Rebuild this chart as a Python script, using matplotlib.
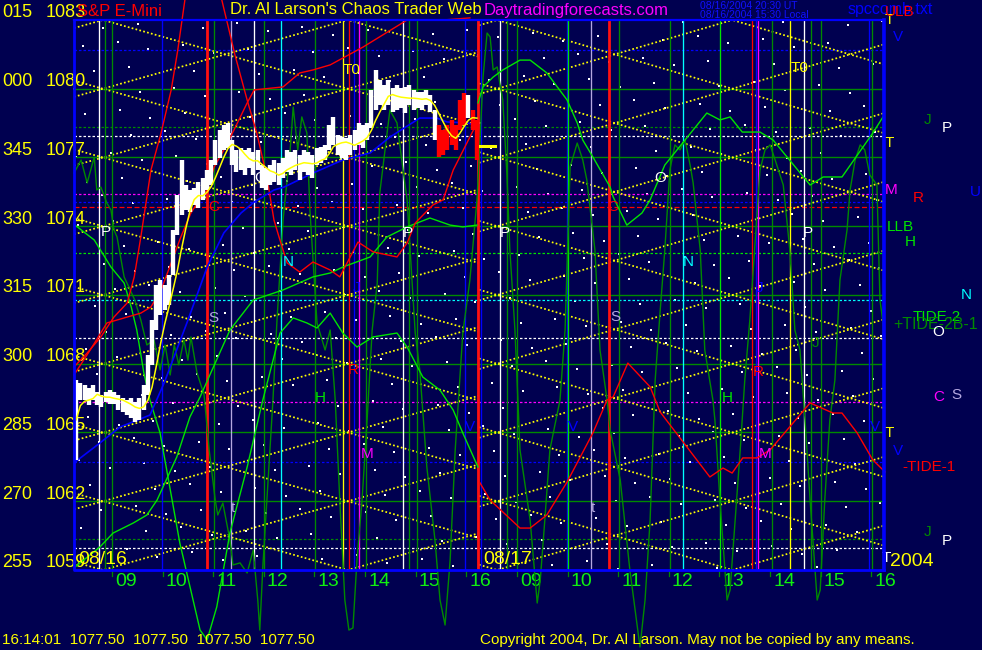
import numpy as np
import pandas as pd
import matplotlib
matplotlib.use("Agg")
import matplotlib.pyplot as plt
from matplotlib.patches import Rectangle

# time axis = hours since 08:15 on 08/16 ; 8.0 = 16:15 08/16 = 08:15 08/17 ; 16.0 = 16:15 08/17
price_levels = [1083, 1080, 1077, 1074, 1071, 1068, 1065, 1062, 1059]
angle_labels = ['015', '000', '345', '330', '315', '300', '285', '270', '255']
hour_names = ['09', '10', '11', '12', '13', '14', '15', '16']
day_labels = ['08/16', '08/17']
last_price = 1077.50
clock_text = '16:14:01'

# 5 minute bars of the S&P E-mini, 08/16
bar_high = [1067.30, 1067.16, 1067.07, 1066.94, 1067.07, 1066.77, 1066.64, 1066.77, 1066.85, 1066.77,
            1066.64, 1066.50, 1066.42, 1066.50, 1066.33, 1066.50, 1067.07, 1068.38, 1069.91, 1071.43,
            1071.65, 1071.43, 1071.87, 1073.83, 1075.36, 1076.89, 1075.80, 1075.58, 1075.67, 1075.93,
            1076.10, 1076.45, 1076.89, 1077.76, 1078.20, 1078.42, 1078.50, 1077.76, 1077.32, 1077.41,
            1077.32, 1077.41, 1077.24, 1077.32, 1076.67, 1076.54, 1076.67, 1076.89, 1076.76, 1076.98,
            1077.32, 1077.24, 1077.32, 1077.11, 1077.32, 1077.24, 1077.11, 1077.41, 1077.46, 1077.54,
            1078.42, 1078.76, 1077.98, 1077.89, 1077.85, 1077.98, 1078.20, 1078.50, 1078.42, 1078.50,
            1079.94, 1080.82, 1080.38, 1080.16, 1080.38, 1080.03, 1080.16, 1080.03, 1080.07, 1080.16,
            1079.94, 1079.86, 1079.86, 1079.94, 1079.72, 1079.07, 1078.42, 1078.20, 1078.42, 1078.63,
            1078.42, 1079.51, 1079.81, 1079.72, 1079.07, 1078.63]
bar_low = [1063.80, 1066.42, 1066.42, 1066.20, 1066.42, 1066.20, 1066.11, 1066.33, 1066.24, 1066.24,
           1065.98, 1065.89, 1065.76, 1065.63, 1065.46, 1065.54, 1065.98, 1066.64, 1067.94, 1069.47,
           1070.13, 1070.34, 1070.56, 1071.87, 1073.62, 1074.49, 1074.71, 1074.62, 1074.92, 1074.79,
           1075.14, 1075.58, 1075.80, 1076.67, 1076.98, 1077.32, 1077.41, 1076.67, 1076.36, 1076.45,
           1076.23, 1076.54, 1076.23, 1076.45, 1075.67, 1075.58, 1075.80, 1075.93, 1075.80, 1076.10,
           1076.36, 1076.23, 1076.45, 1076.02, 1076.36, 1076.23, 1076.10, 1076.67, 1076.76, 1076.89,
           1077.32, 1077.54, 1077.11, 1076.98, 1076.89, 1077.11, 1077.32, 1077.54, 1077.41, 1077.76,
           1078.28, 1079.07, 1079.29, 1079.07, 1079.29, 1078.98, 1079.07, 1079.16, 1078.94, 1079.29,
           1079.07, 1079.16, 1079.07, 1079.29, 1078.98, 1077.76, 1077.02, 1077.11, 1077.32, 1077.54,
           1077.32, 1078.20, 1078.42, 1078.72, 1078.20, 1076.89]

# slow average (blue)
blue_curve = [(0.02, 1063.71), (0.51, 1064.54), (0.91, 1065.24), (1.50, 1065.76), (1.78, 1067.16),
              (2.23, 1069.78), (2.63, 1072.22), (2.96, 1073.71), (3.30, 1074.58), (3.56, 1075.06),
              (3.95, 1075.58), (4.15, 1075.71), (4.72, 1076.32), (5.31, 1076.89), (5.85, 1077.20),
              (6.24, 1077.89), (6.83, 1078.72), (7.17, 1078.72), (7.37, 1078.55), (7.76, 1078.51),
              (7.96, 1078.42)]

# red tide curves
red_1 = [(0.00, 1067.86), (0.26, 1068.47), (0.53, 1069.17), (0.79, 1070.04), (1.05, 1070.65),
         (1.19, 1071.79), (1.32, 1073.53), (1.52, 1076.45), (1.72, 1078.07), (1.92, 1079.95),
         (2.05, 1081.69), (2.19, 1083.87)]
red_2 = [(0.00, 1067.51), (0.32, 1068.60), (0.65, 1069.78), (1.32, 1070.21), (1.52, 1070.48),
         (1.72, 1071.22), (1.92, 1072.40), (2.11, 1073.53), (2.31, 1074.58), (2.51, 1075.28),
         (2.63, 1075.58), (2.77, 1076.59), (2.96, 1077.33), (3.16, 1078.20), (3.42, 1079.38),
         (3.56, 1079.95), (4.13, 1080.08), (4.46, 1080.69), (4.72, 1080.82), (5.06, 1081.04),
         (5.71, 1081.82), (6.58, 1083.00), (7.29, 1083.00), (7.82, 1083.09)]
red_3 = [(2.92, 1083.87), (3.18, 1081.47), (3.42, 1079.51), (3.61, 1078.07), (3.81, 1076.15),
         (3.95, 1074.27), (4.05, 1073.53), (4.21, 1072.40), (4.46, 1072.00), (4.72, 1072.44),
         (5.06, 1072.09), (5.25, 1071.79), (5.61, 1073.31), (5.91, 1072.88), (6.38, 1072.66),
         (6.58, 1073.27), (6.74, 1074.14), (7.09, 1074.93), (7.29, 1075.15), (7.49, 1076.45),
         (7.76, 1077.63), (7.96, 1078.51)]
red_4 = [(8.02, 1062.80), (8.22, 1062.05), (8.81, 1060.83), (9.01, 1060.83), (9.34, 1061.40),
         (9.74, 1062.84), (10.25, 1064.98), (10.53, 1066.42), (10.65, 1066.55), (10.94, 1068.03),
         (11.38, 1066.99), (11.58, 1065.89), (12.56, 1063.06), (12.82, 1063.45), (13.00, 1063.23),
         (13.21, 1063.89), (13.49, 1063.89), (13.75, 1064.24), (14.54, 1066.29), (14.99, 1065.85),
         (15.17, 1065.85), (15.47, 1064.98), (15.78, 1063.80), (16.02, 1063.28)]

# light green tide curves
green_1 = [(0.02, 1074.05), (0.40, 1073.40), (0.73, 1072.22), (0.99, 1071.52), (1.13, 1070.48),
           (1.24, 1069.47), (1.38, 1067.60), (1.50, 1066.42), (1.70, 1064.98), (2.09, 1060.18),
           (2.49, 1056.38), (2.63, 1055.95), (2.82, 1057.39), (3.08, 1060.61), (3.42, 1063.49),
           (3.73, 1066.42), (4.07, 1069.34), (4.33, 1070.00), (4.60, 1069.78), (4.80, 1069.56),
           (5.06, 1070.21), (5.31, 1069.34), (5.59, 1068.73), (5.91, 1069.17), (6.38, 1069.34),
           (6.58, 1068.73), (6.89, 1067.42), (7.23, 1066.85), (7.49, 1065.98), (7.68, 1064.98),
           (7.98, 1063.49)]
green_2 = [(0.02, 1059.13), (0.51, 1060.00), (0.77, 1060.61), (1.17, 1061.05), (1.44, 1061.40),
           (1.64, 1062.05), (2.03, 1063.93), (2.29, 1065.68), (2.49, 1066.55), (3.08, 1069.47),
           (3.54, 1070.78), (4.13, 1071.22), (4.72, 1071.79), (5.06, 1071.96), (5.31, 1072.22),
           (5.85, 1072.66), (6.18, 1073.53), (6.58, 1073.97), (7.03, 1074.36), (7.43, 1074.05),
           (7.68, 1073.97), (7.96, 1074.05)]
green_3 = [(7.98, 1079.38), (8.08, 1080.08), (8.28, 1080.51), (8.47, 1080.82), (8.81, 1081.25),
           (9.01, 1081.25), (9.34, 1080.69), (9.74, 1079.51), (9.94, 1078.51), (10.05, 1077.76),
           (10.25, 1077.02), (10.59, 1075.71), (10.65, 1075.28), (10.92, 1074.05), (11.22, 1074.58),
           (11.38, 1075.15), (11.67, 1076.67), (12.50, 1078.94), (12.76, 1078.64), (12.96, 1078.77),
           (13.20, 1078.11), (13.55, 1078.11), (13.81, 1077.76), (14.54, 1075.80), (14.80, 1076.15),
           (15.17, 1076.15), (15.78, 1078.07), (15.98, 1078.77)]

# fast cycle (dark green)
wave = [(0.00, 1076.32), (0.14, 1076.89), (0.26, 1075.89), (0.40, 1077.02), (0.45, 1075.58),
        (0.53, 1075.71), (0.65, 1075.01), (0.73, 1074.71), (0.79, 1073.84), (0.85, 1073.53),
        (0.93, 1072.53), (0.99, 1071.79), (1.11, 1071.22), (1.20, 1070.78), (1.32, 1069.91),
        (1.44, 1068.82), (1.58, 1069.04), (1.70, 1067.73), (1.80, 1068.82), (1.90, 1067.51),
        (1.98, 1068.82), (2.07, 1067.95), (2.17, 1069.04), (2.25, 1068.16), (2.31, 1069.17),
        (2.43, 1067.60), (2.57, 1066.64), (2.67, 1064.24), (2.79, 1062.05), (2.84, 1061.40),
        (2.94, 1061.92), (3.08, 1060.31), (3.14, 1059.22), (3.28, 1059.31), (3.42, 1058.87),
        (3.54, 1059.87), (3.63, 1057.69), (3.67, 1056.38), (3.73, 1059.13), (3.81, 1062.05),
        (3.93, 1066.42), (4.01, 1069.91), (4.13, 1074.27), (4.27, 1077.33), (4.33, 1079.20),
        (4.42, 1077.33), (4.50, 1078.77), (4.60, 1078.07), (4.66, 1074.71), (4.80, 1069.78),
        (4.96, 1068.60), (5.06, 1069.47), (5.16, 1066.42), (5.25, 1062.05), (5.35, 1057.69),
        (5.43, 1056.38), (5.51, 1056.47), (5.59, 1059.44), (5.69, 1062.05), (5.79, 1065.55),
        (5.89, 1069.47), (5.99, 1071.52), (6.04, 1075.45), (6.24, 1079.07), (6.38, 1078.51),
        (6.50, 1076.45), (6.58, 1075.15), (6.64, 1072.96), (6.74, 1069.34), (6.83, 1067.73),
        (6.97, 1063.49), (7.13, 1060.31), (7.23, 1057.69), (7.33, 1056.60), (7.43, 1059.44),
        (7.53, 1064.24), (7.68, 1069.34), (7.82, 1071.65), (7.96, 1075.15), (8.02, 1077.76),
        (8.08, 1080.51), (8.16, 1082.43), (8.22, 1082.26), (8.28, 1080.82), (8.36, 1080.95),
        (8.41, 1080.25), (8.47, 1079.51), (8.55, 1076.32), (8.61, 1072.96), (8.71, 1069.47),
        (8.81, 1064.24), (9.01, 1061.18), (9.15, 1057.56), (9.21, 1058.56), (9.30, 1061.18),
        (9.40, 1064.24), (9.60, 1066.42), (9.70, 1069.47), (9.80, 1076.59), (9.94, 1077.63),
        (10.05, 1076.89), (10.13, 1076.02), (10.29, 1072.96), (10.39, 1068.60), (10.53, 1066.42),
        (10.59, 1065.11), (10.79, 1062.93), (10.98, 1059.00), (11.18, 1055.64), (11.28, 1057.69),
        (11.38, 1061.18), (11.48, 1067.29), (11.58, 1070.35), (11.67, 1072.96), (11.77, 1076.45),
        (11.87, 1077.55), (11.97, 1077.33), (12.07, 1077.76), (12.17, 1076.67), (12.23, 1075.89),
        (12.37, 1072.96), (12.46, 1068.60), (12.62, 1066.42), (12.66, 1065.55), (12.76, 1062.05),
        (12.90, 1057.69), (12.96, 1058.13), (13.06, 1061.18), (13.16, 1064.24), (13.25, 1067.29),
        (13.35, 1069.91), (13.55, 1076.45), (13.65, 1077.33), (13.75, 1077.55), (13.85, 1076.89),
        (14.01, 1075.80), (14.14, 1072.96), (14.24, 1069.47), (14.34, 1068.60), (14.44, 1065.55),
        (14.54, 1062.05), (14.68, 1057.69), (14.74, 1058.13), (14.83, 1062.05), (14.93, 1065.55),
        (15.03, 1067.29), (15.13, 1071.65), (15.27, 1073.84), (15.33, 1075.58), (15.43, 1076.89),
        (15.53, 1077.55), (15.62, 1077.33), (15.72, 1076.24), (15.86, 1075.80), (15.92, 1070.78),
        (16.00, 1069.47)]

# time markers (vertical lines) by kind
time_marks = {
    'white': [0.49, 3.56, 6.50, 8.42, 14.41],
    'lavender': [3.10, 10.22],
    'red_thick': [2.63, 7.98, 10.57],
    'red': [5.43, 13.40],
    'blue': [1.74, 5.53, 7.73, 8.04, 9.74, 13.48, 15.71],
    'magenta': [5.63, 13.52],
    'cyan': [4.09, 12.02],
    'yellow': [5.32, 14.15],
    'dgreen': [0.61, 0.75, 2.77, 3.76, 4.76, 5.77, 6.62, 6.78, 8.56, 8.76, 10.77, 11.78,
               13.78, 14.55, 14.76, 15.77],
    'lgreen': [9.76, 12.77, 15.99],
}
# price levels (horizontal lines)
solid_levels = [1080, 1077, 1074, 1071, 1068, 1065, 1062]
dotted_levels = {
    'blue': [1081.69, 1075.06, 1063.71],
    'dgreen': [1078.33, 1060.35],
    'white': [1077.94, 1069.12, 1059.96],
    'magenta': [1075.40, 1066.33],
    'red': [1074.84],
    'lgreen': [1072.83],
    'cyan': [1070.78],
}
# lattice of angle lines per day: start, end, pivot hour, slope (points / hour)
lattice = [(0.0, 8.0, 0.57, 0.62), (8.0, 16.0, 8.36, 0.646)]
lattice_base = 1062.0

# point labels in the chart: hour, price, text, kind
chart_labels = [
    (5.49, 1080.82, 'T0', 'yellow'), (14.34, 1080.91, 'T0', 'yellow'),
    (3.67, 1076.11, 'O', 'white'), (11.58, 1076.11, 'O', 'white'),
    (0.63, 1073.75, 'P', 'white'), (6.60, 1073.71, 'P', 'white'),
    (8.51, 1073.71, 'P', 'white'), (14.50, 1073.71, 'P', 'white'),
    (4.23, 1072.44, 'N', 'cyan'), (12.13, 1072.44, 'N', 'cyan'),
    (2.75, 1070.00, 'S', 'lavender'), (10.69, 1070.04, 'S', 'lavender'),
    (4.86, 1066.51, 'H', 'lgreen'), (12.90, 1066.51, 'H', 'lgreen'),
    (5.79, 1064.06, 'M', 'magenta'), (13.65, 1064.06, 'M', 'magenta'),
    (3.14, 1061.71, 't', 'lavender'), (10.25, 1061.71, 't', 'lavender'),
    (7.82, 1065.24, 'V', 'blue'), (9.86, 1065.24, 'V', 'blue'), (15.82, 1065.24, 'V', 'blue'),
    (2.77, 1074.84, 'C', 'red'), (10.65, 1074.84, 'C', 'red'),
    (5.51, 1067.73, 'R', 'red'), (13.51, 1067.64, 'R', 'red'),
    (5.59, 1071.31, 'J', 'blue'), (13.55, 1071.31, 'J', 'blue'),
    (14.64, 1068.91, 'J', 'dgreen'),
]
# labels right of the chart
side_labels = [
    (16.12, 1083.44, 'spccomb.txt', 'blue'),
    (16.10, 1083.00, 'T', 'yellow'), (16.30, 1083.35, 'ULB', 'red'),
    (16.28, 1082.26, 'V', 'blue'), (16.85, 1078.64, 'J', 'dgreen'), (17.24, 1078.29, 'P', 'white'),
    (16.10, 1077.63, 'T', 'yellow'), (16.14, 1075.58, 'M', 'magenta'), (16.67, 1075.23, 'R', 'red'),
    (17.80, 1075.49, 'U', 'blue'), (16.32, 1073.96, 'LLB', 'lgreen'), (16.51, 1073.31, 'H', 'lgreen'),
    (17.62, 1071.00, 'N', 'cyan'), (17.05, 1070.04, 'TIDE-2', 'lgreen'),
    (17.01, 1069.73, '+TIDE-2B-1', 'dgreen'), (17.07, 1069.39, 'O', 'white'),
    (17.09, 1066.55, 'C', 'magenta'), (17.44, 1066.64, 'S', 'lavender'),
    (16.10, 1064.98, 'T', 'yellow'), (16.28, 1064.19, 'V', 'blue'), (16.89, 1063.49, '-TIDE-1', 'red'),
    (16.85, 1060.66, 'J', 'dgreen'), (17.24, 1060.27, 'P', 'white'), (16.04, 1059.52, 'T', 'white'),
]
year_label = '2004'

colors = {'white': '#ffffff', 'lavender': '#b4a8e0', 'red': '#ff0000', 'red_thick': '#ff1010',
          'blue': '#0000ff', 'magenta': '#ff00ff', 'cyan': '#00ffff', 'yellow': '#ffff00',
          'dgreen': '#008a00', 'lgreen': '#00e400'}
bg = '#000050'

plt.rcParams['font.family'] = ['Liberation Sans', 'DejaVu Sans']

fig = plt.figure(figsize=(9.82, 6.5), dpi=100, facecolor=bg)
ax = fig.add_axes([0, 0, 1, 1])
ax.set_facecolor(bg)
# 50.625 px per hour, 22.917 px per point, frame at x=74 px and 80 px above the bottom
ax.set_xlim(-74 / 50.625, (982 - 74) / 50.625)
ax.set_ylim(1059 - 80 / 22.917, 1059 + 570 / 22.917)
ax.axis('off')

t0, t1, p0, p1 = 0.0, 16.0, 1059.0, 1083.0
box = Rectangle((t0, p0), t1 - t0, p1 - p0, transform=ax.transData, fill=False, lw=0)
ax.add_patch(box)

# star field in the background (plain decoration)
g = 1.32471795724474602596
k = np.arange(1, 520)
sx = t0 + ((0.37 + k / g) % 1) * (t1 - t0)
sy = p0 + ((0.61 + k / g ** 2) % 1) * (p1 - p0)
ax.scatter(sx, sy, s=1.3, marker='s', color='white', lw=0, zorder=1)

# horizontal levels
for lv in solid_levels:
    ax.plot([t0, t1], [lv, lv], color=colors['dgreen'], lw=1.0, zorder=2)
for kind, lvls in dotted_levels.items():
    for lv in lvls:
        ls = (0, (4, 2)) if kind == 'red' else (0, (2, 1.6))
        ax.plot([t0, t1], [lv, lv], color=colors[kind], lw=0.9, ls=ls, zorder=2)

# lattice of yellow angle lines
for start, end, pivot, slope in lattice:
    tt = np.array([start, end])
    for j in range(-12, 14):
        lv = lattice_base + 3 * j
        for sgn in (1, -1):
            pp = lv + sgn * slope * (tt - pivot)
            ln, = ax.plot(tt, pp, color=colors['yellow'], lw=1.25, ls=(0, (1, 1.3)), zorder=3)
            ln.set_clip_path(box)

# vertical time marks
for kind, times in time_marks.items():
    lw = 2.0 if kind == 'red_thick' else 0.95
    ax.vlines(times, p0, p1, colors=colors[kind], lw=lw, zorder=4)

# hour ticks and labels
for d in range(2):
    for h, name in enumerate(hour_names):
        th = d * 8 + 0.75 + h
        ax.plot([th, th], [p0, p0 - 0.26], color=colors['dgreen'], lw=0.9, zorder=4)
        ax.text(th + 0.06, p0 - 0.52, name, color='#10f010', fontsize=14,
                ha='left', va='center')
    ax.text(d * 8 + 0.08, p0 + 0.44, day_labels[d], color=colors['yellow'], fontsize=14,
            ha='left', va='center', zorder=9)
ax.text(16.55, p0 + 0.39, year_label, color=colors['yellow'], fontsize=14,
        ha='center', va='center', zorder=9)

# curves
def draw(curve, col, lw=1.0, z=5):
    arr = np.array(curve)
    ax.plot(arr[:, 0], arr[:, 1], color=col, lw=lw, zorder=z)

draw(wave, colors['dgreen'], 1.0, 5)
draw(green_1, colors['lgreen'], 1.0, 6)
draw(green_2, colors['lgreen'], 1.0, 6)
draw(green_3, colors['lgreen'], 1.0, 6)
draw(red_1, colors['red'], 1.0, 6)
draw(red_2, colors['red'], 1.0, 6)
draw(red_3, colors['red'], 1.0, 6)
draw(red_4, colors['red'], 1.0, 6)
draw(blue_curve, colors['blue'], 1.2, 6)

# price bars
bars = pd.DataFrame({'high': bar_high, 'low': bar_low})
bars['t'] = (np.arange(len(bars)) + 0.5) * 5 / 60
bar_cols = ['#ff0000' if (i >= 86 and i != 93) else '#ffffff' for i in range(len(bars))]
ax.vlines(bars['t'], bars['low'], bars['high'], colors=bar_cols, lw=3.15, zorder=7)
avg = ((bars['high'] + bars['low']) / 2).rolling(5, min_periods=1).mean()
ax.plot(bars['t'], avg, color=colors['yellow'], lw=1.1, zorder=8)
ax.plot([8.02, 8.32], [last_price, last_price], color=colors['yellow'], lw=2.2, zorder=8)

# frame
ax.plot([t0, t0, t1], [p1, p0, p0], color='#0000ff', lw=2.0, zorder=10)
ax.plot([t0, t1], [p1, p1], color='#0000ff', lw=1.6, zorder=10)
ax.plot([t1, t1], [p0, p1], color='#0000ff', lw=2.6, zorder=10)

# text labels in chart
for th, pv, txt, kind in chart_labels:
    ax.text(th, pv, txt, color=colors[kind], fontsize=11, ha='center', va='center', zorder=9)
for th, pv, txt, kind in side_labels:
    ax.text(th, pv, txt, color=colors[kind], fontsize=11 if len(txt) < 8 else 11.5,
            ha='center', va='center', zorder=9)

# price scale on the left
for ang, lv in zip(angle_labels, price_levels):
    ax.text(-1.42, lv + 0.31, ang, color=colors['yellow'], fontsize=13, ha='left', va='center')
    ax.text(-0.57, lv + 0.31, str(lv), color=colors['yellow'], fontsize=13, ha='left', va='center')

# header and footer
fig.text(77 / 982, 1 - 11 / 650, 'S&P E-Mini', color=colors['red'], fontsize=12, va='center')
fig.text(230 / 982, 1 - 10 / 650, "Dr. Al Larson's Chaos Trader Web", color=colors['yellow'],
         fontsize=12, va='center')
fig.text(484 / 982, 1 - 10 / 650, 'Daytradingforecasts.com', color=colors['magenta'],
         fontsize=12, va='center')
fig.text(700 / 982, 1 - 6 / 650, '08/16/2004 20:30 UT', color='#1010ff', fontsize=7.5, va='center')
fig.text(700 / 982, 1 - 15 / 650, '08/16/2004 15:30 Local', color='#1010ff', fontsize=7.5,
         va='center')
quote = '  '.join([clock_text] + ['%.2f' % last_price] * 4)
fig.text(2 / 982, 1 - 640 / 650, quote, color=colors['yellow'], fontsize=11, va='center')
fig.text(480 / 982, 1 - 640 / 650, 'Copyright 2004, Dr. Al Larson. May not be copied by any means.',
         color=colors['yellow'], fontsize=11, va='center')

fig.savefig('out.png', dpi=100, facecolor=bg)
